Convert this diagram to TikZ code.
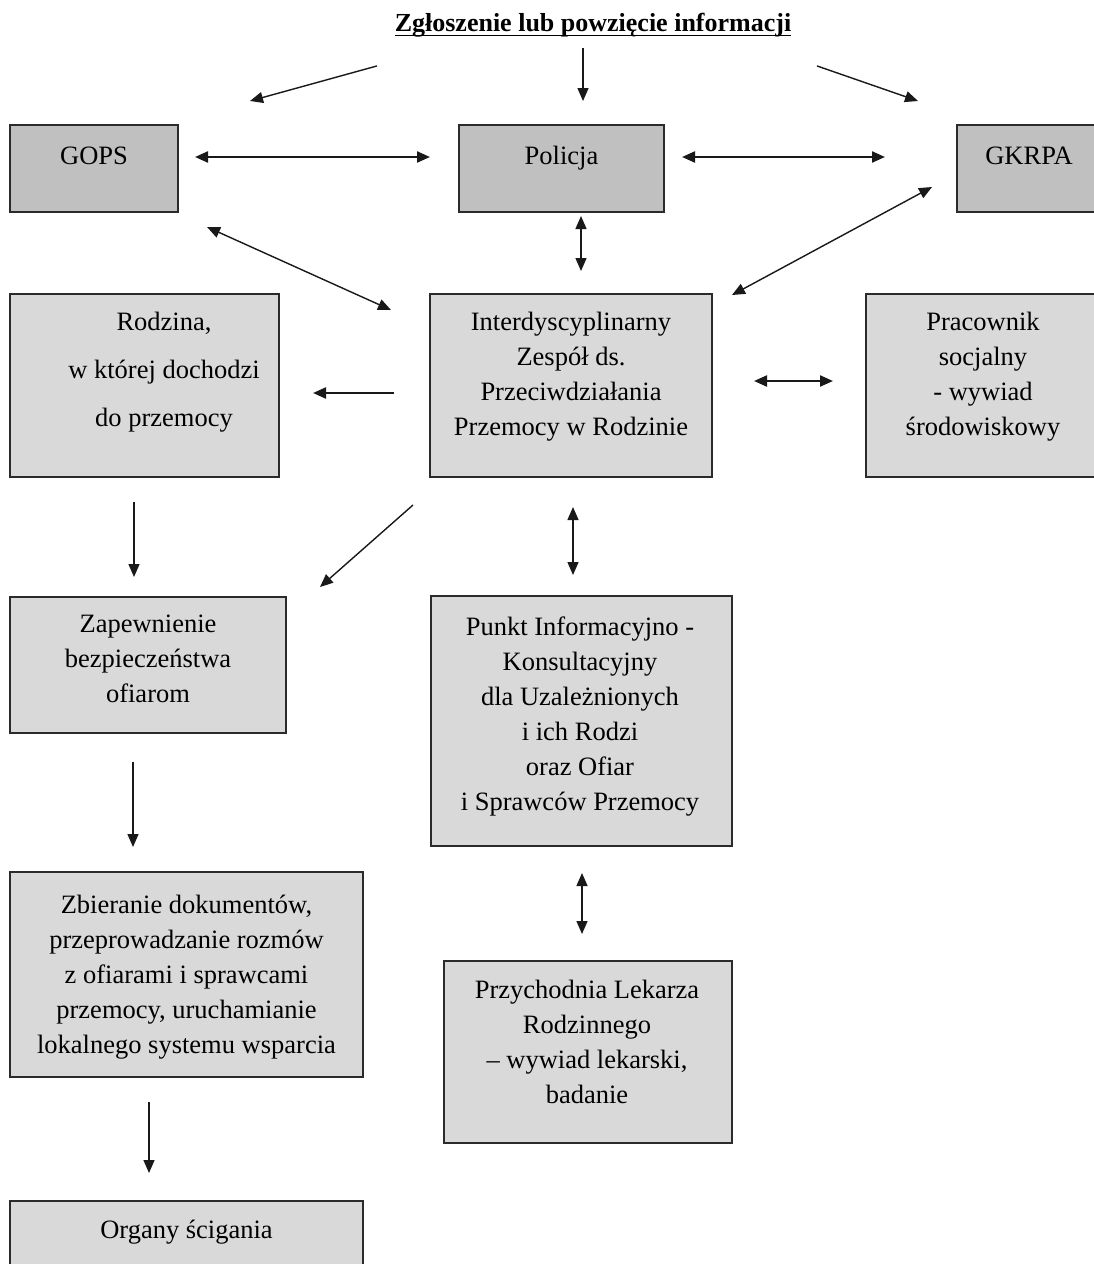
\documentclass[tikz,border=0pt]{standalone}
\usepackage{fontspec}
\setmainfont{Liberation Serif}
\usetikzlibrary{calc,arrows.meta}
\definecolor{darkfill}{HTML}{C0C0C0}
\definecolor{lightfill}{HTML}{D9D9D9}
\definecolor{edge}{HTML}{2B2B2B}
\newcommand{\titleuline}[1]{\setbox0=\hbox{#1}\rlap{\vrule height -3.5pt depth 5pt width \wd0}\box0}
\tikzset{
	box/.style={draw=edge, line width=1.6pt, fill=lightfill, inner sep=0pt, outer sep=0pt},
	topbox/.style={box, fill=darkfill},
	txt/.style={inner sep=0pt, align=center, anchor=north, font=\fontsize{26.5}{35}\selectfont, execute at begin node=\strut},
	arr/.style={->, line width=1.4pt, draw=black!90},
	arrbold/.style={->, line width=2.2pt, draw=black!90},
	darr/.style={<->, line width=1.4pt, draw=black!90},
	darrbold/.style={<->, line width=2.2pt, draw=black!90}
}

\begin{document}
\begin{tikzpicture}[x=1pt, y=-1pt, >={Triangle[length=13pt,width=11pt]}]
			%%%%% START %%%%%
			\fill[white] (0,0) rectangle (1094,1264);
			\useasboundingbox (0,0) rectangle (1094,1264);
			\clip (0,0) rectangle (1094,1264);
			
			\node[inner sep=0pt, anchor=base, font=\bfseries\fontsize{26}{30}\selectfont] (title) at (593,31) {\titleuline{Zgłoszenie lub powzięcie informacji}};
			
			% boxes
			\node[topbox, minimum width=168pt, minimum height=87pt] (gops) at (94,168.5) {};
			\node[topbox, minimum width=205pt, minimum height=87pt] (policja) at (561.5,168.5) {};
			\node[topbox, minimum width=144pt, minimum height=87pt] (gkrpa) at (1029,168.5) {};
			
			\node[box, minimum width=269pt, minimum height=183pt] (rodzina) at (144.5,385.5) {};
			\node[box, minimum width=282pt, minimum height=183pt] (zespol) at (571,385.5) {};
			\node[box, minimum width=234pt, minimum height=183pt] (pracownik) at (983,385.5) {};
			
			\node[box, minimum width=276pt, minimum height=136pt] (zapewnienie) at (148,665) {};
			\node[box, minimum width=301pt, minimum height=250pt] (punkt) at (581.5,721) {};
			
			\node[box, minimum width=353pt, minimum height=205pt] (zbieranie) at (186.5,974.5) {};
			\node[box, minimum width=288pt, minimum height=182pt] (przychodnia) at (588,1052) {};
			\node[box, minimum width=353pt, minimum height=87pt] (organy) at (186.5,1244.5) {};
			
			% texts
			\node[txt] (gopsT) at ($(gops.north)+(0,15)$) {GOPS};
			\node[txt] (policjaT) at ($(policja.north)+(0,15)$) {Policja};
			\node[txt] (gkrpaT) at ($(gkrpa.north)+(0,15)$) {GKRPA};
			
			\node[txt] (rodzinaT) at ($(rodzina.north)+(19.5,18)$) {Rodzina,\\[13pt] w której dochodzi\\[13pt] do przemocy};
			\node[txt] (zespolT) at ($(zespol.north)+(0,18)$) {Interdyscyplinarny\\ Zespół ds.\\ Przeciwdziałania\\ Przemocy w Rodzinie};
			\node[txt] (pracownikT) at ($(pracownik.north)+(0,18)$) {Pracownik\\ socjalny\\ - wywiad\\ środowiskowy};
			
			\node[txt] (zapewnienieT) at ($(zapewnienie.north)+(0,17.5)$) {Zapewnienie\\ bezpieczeństwa\\ ofiarom};
			\node[txt] (punktT) at ($(punkt.north)+(-1.5,21)$) {Punkt Informacyjno -\\ Konsultacyjny\\ dla Uzależnionych\\ i ich Rodzi\\ oraz Ofiar\\ i Sprawców Przemocy};
			
			\node[txt] (zbieranieT) at ($(zbieranie.north)+(0,23)$) {Zbieranie dokumentów,\\ przeprowadzanie rozmów\\ z ofiarami i sprawcami\\ przemocy, uruchamianie\\ lokalnego systemu wsparcia};
			\node[txt] (przychodniaT) at ($(przychodnia.north)+(-1,19)$) {Przychodnia Lekarza\\ Rodzinnego\\ – wywiad lekarski,\\ badanie};
			\node[txt] (organyT) at ($(organy.north)+(0,12.5)$) {Organy ścigania};
			
			% arrows
			\draw[arr] ($(title.south)+(-216,29)$) -- ($(gops.north east)+(72,-24)$);
			\draw[arr] ($(title.south)+(-10,11)$) -- ($(policja.north)+(21.5,-24)$);
			\draw[arr] ($(title.south)+(224,29)$) -- ($(gkrpa.north west)+(-39,-24)$);
			
			\draw[darrbold] ($(gops.east)+(17,-11.5)$) -- ($(policja.west)+(-29,-11.5)$);
			\draw[darrbold] ($(policja.east)+(18,-11.5)$) -- ($(gkrpa.west)+(-72,-11.5)$);
			\draw[darr] ($(policja.south)+(19.5,4)$) -- ($(zespol.north)+(10,-23)$);
			\draw[darr] ($(gops.south east)+(29,15)$) -- ($(zespol.north west)+(-39,16)$);
			\draw[darr] ($(gkrpa.south west)+(-25,-25)$) -- ($(zespol.north east)+(20,1)$);
			
			\draw[arrbold] ($(zespol.west)+(-36,7.5)$) -- ($(rodzina.east)+(34,7.5)$);
			\draw[darrbold] ($(zespol.east)+(42,-4.5)$) -- ($(pracownik.west)+(-33,-4.5)$);
			
			\draw[arr] ($(rodzina.south)+(-10.5,25)$) -- ($(zapewnienie.north)+(-14,-20)$);
			\draw[arr] ($(zespol.south west)+(-17,28)$) -- ($(zapewnienie.north east)+(34,-10)$);
			\draw[darr] ($(zespol.south)+(2,30)$) -- ($(punkt.north)+(-8.5,-21)$);
			
			\draw[arr] ($(zapewnienie.south)+(-15,29)$) -- ($(zbieranie.north)+(-53.5,-25)$);
			\draw[darr] ($(punkt.south)+(0.5,27)$) -- ($(przychodnia.north)+(-6,-27)$);
			\draw[arr] ($(zbieranie.south)+(-37.5,25)$) -- ($(organy.north)+(-37.5,-28)$);
			%%%%% END %%%%%
\end{tikzpicture}
\end{document}
